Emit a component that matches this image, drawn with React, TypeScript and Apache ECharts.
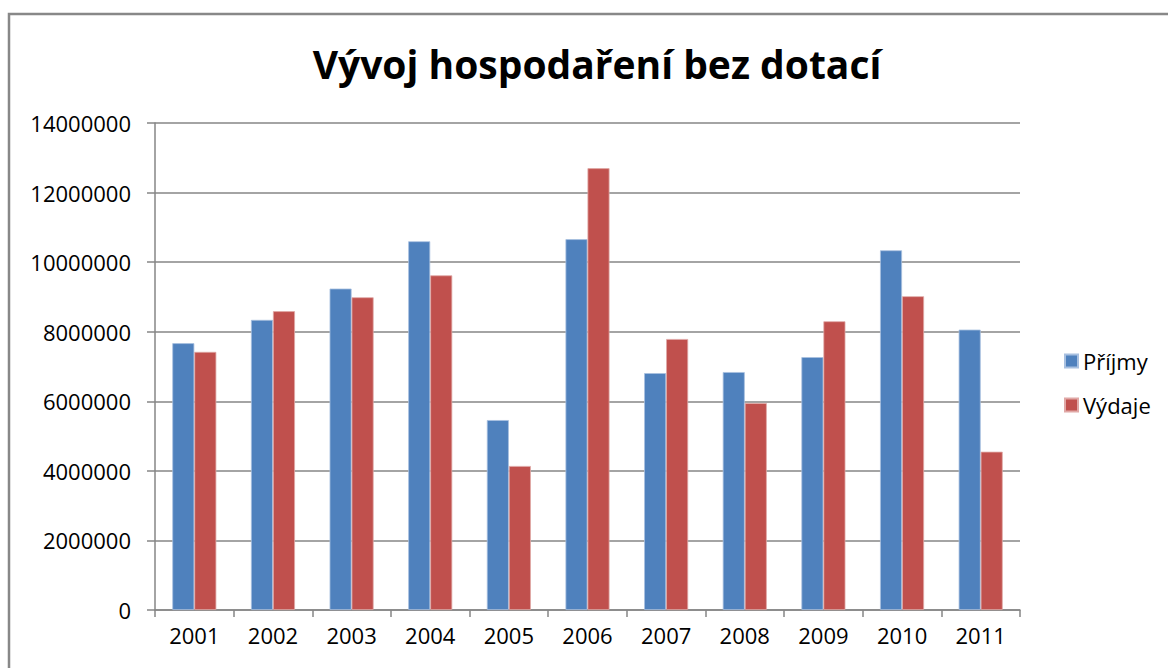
import React, { useEffect, useRef } from "react";
import * as echarts from "echarts";

const years = ["2001", "2002", "2003", "2004", "2005", "2006", "2007", "2008", "2009", "2010", "2011"];
const prijmy = [7670000, 8340000, 9240000, 10600000, 5460000, 10660000, 6810000, 6840000, 7270000, 10340000, 8060000];
const vydaje = [7420000, 8590000, 8990000, 9620000, 4140000, 12700000, 7790000, 5950000, 8300000, 9020000, 4550000];
const yTicksMax = 14000000;
const yTickStep = 2000000;

const FONT = "'Open Sans', 'Noto Sans', sans-serif";

export default function App() {
  const ref = useRef<HTMLDivElement>(null);
  useEffect(() => {
    const chart = echarts.init(ref.current!, null, { renderer: "svg" });
    chart.setOption({
      animation: false,
      backgroundColor: "#ffffff",
      textStyle: { fontFamily: FONT },
      title: {
        text: "Vývoj hospodaření bez dotací",
        left: 592,
        textAlign: "center",
        top: 39,
        textStyle: { fontFamily: FONT, fontSize: 39, fontWeight: "bold", color: "#000" },
      },
      legend: {
        orient: "vertical",
        left: 1059,
        top: 345,
        itemWidth: 13,
        itemHeight: 13,
        itemGap: 22,
        icon: "rect",
        textStyle: { fontFamily: FONT, fontSize: 22, color: "#000" },
        data: ["Příjmy", "Výdaje"],
      },
      grid: { left: 155, right: 148, top: 123, bottom: 58 },
      xAxis: {
        type: "category",
        data: years,
        axisLine: { lineStyle: { color: "#868686", width: 1.5 } },
        axisTick: { show: true, length: 7, lineStyle: { color: "#868686", width: 1.5 } },
        axisLabel: { fontFamily: FONT, fontSize: 22, color: "#000", margin: 14 },
      },
      yAxis: {
        type: "value",
        min: 0,
        max: yTicksMax,
        interval: yTickStep,
        axisLine: { show: true, lineStyle: { color: "#868686", width: 1.5 } },
        axisTick: { show: true, length: 8, lineStyle: { color: "#868686", width: 1.5 } },
        splitLine: { lineStyle: { color: "#868686", width: 1.5 } },
        axisLabel: {
          fontFamily: FONT,
          fontSize: 22,
          color: "#000",
          margin: 24,
          formatter: (v: number) => String(v),
        },
      },
      series: [
        {
          name: "Příjmy",
          type: "bar",
          data: prijmy,
          barGap: "0%",
          barCategoryGap: "44%",
          itemStyle: { color: "#4F81BD", borderColor: "#a8c0e0", borderWidth: 0.8 },
        },
        {
          name: "Výdaje",
          type: "bar",
          data: vydaje,
          barGap: "0%",
          barCategoryGap: "44%",
          itemStyle: { color: "#C0504D", borderColor: "#e0a8a6", borderWidth: 0.8 },
        },
      ],
      graphic: [
        {
          type: "rect",
          shape: { x: 9, y: 14, width: 1200, height: 700 },
          style: { fill: "none", stroke: "#888888", lineWidth: 2.5 },
          silent: true,
        },
      ],
    });
    return () => chart.dispose();
  }, []);
  return (
    <div
      ref={ref}
      style={{ position: "fixed", left: 0, top: 0, width: 1168, height: 668 }}
    />
  );
}
